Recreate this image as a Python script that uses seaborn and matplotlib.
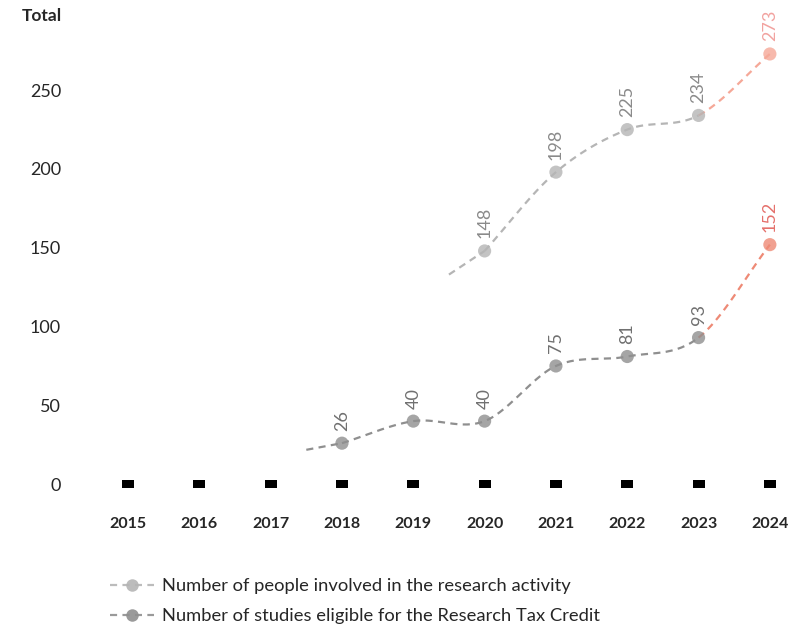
import numpy as np
import pandas as pd
import matplotlib.pyplot as plt
import seaborn as sns
from matplotlib.lines import Line2D

years = [2015, 2016, 2017, 2018, 2019, 2020, 2021, 2022, 2023, 2024]
people = [np.nan, np.nan, np.nan, np.nan, np.nan, 148, 198, 225, 234, 273]
studies = [np.nan, np.nan, np.nan, 26, 40, 40, 75, 81, 93, 152]

series_names = ["Number of people involved in the research activity",
                "Number of studies eligible for the Research Tax Credit"]
gray_cols = ["#b5b5b5", "#8f8f8f"]
hi_cols = ["#f5a898", "#ee8a76"]
label_cols = [("#8a8a8a", "#f2a3a0"), ("#707070", "#e5716c")]

sns.set_theme(style="white")
plt.rcParams["font.family"] = ["Lato", "DejaVu Sans"]


def smooth(xs, ys, n=30):
    # catmull-rom style curve through the points
    xs = np.asarray(xs, float)
    ys = np.asarray(ys, float)
    m = np.zeros_like(ys)
    m[1:-1] = (ys[2:] - ys[:-2]) / 2
    m[0] = ys[1] - ys[0]
    m[-1] = ys[-1] - ys[-2]
    cx, cy = [], []
    for i in range(len(xs) - 1):
        t = np.linspace(0, 1, n)
        h00 = 2 * t**3 - 3 * t**2 + 1
        h10 = t**3 - 2 * t**2 + t
        h01 = -2 * t**3 + 3 * t**2
        h11 = t**3 - t**2
        cx.append(xs[i] + t)
        cy.append(h00 * ys[i] + h10 * m[i] + h01 * ys[i + 1] + h11 * m[i + 1])
    return cx, cy, m


fig = plt.figure(figsize=(8.09, 6.32), dpi=100)
ax = fig.add_axes([0.0789, 0.209, 0.908, 0.748])

idx = np.arange(len(years))
dash = (0, (3.2, 2.4))

for k, vals in enumerate([people, studies]):
    v = np.array(vals, float)
    ok = ~np.isnan(v)
    xs, ys = idx[ok], v[ok]
    cx, cy, m = smooth(xs, ys)
    # leading stub
    sx = np.array([xs[0] - 0.5, xs[0]])
    sy = np.array([ys[0] - 0.5 * 0.6 * m[0], ys[0]])
    sns.lineplot(x=sx, y=sy, ax=ax, color=gray_cols[k], lw=1.6,
                 linestyle=dash, sort=False, estimator=None)
    gx = np.concatenate(cx[:-1])
    gy = np.concatenate(cy[:-1])
    sns.lineplot(x=gx, y=gy, ax=ax, color=gray_cols[k], lw=1.6,
                 linestyle=dash, sort=False, estimator=None)
    sns.lineplot(x=cx[-1], y=cy[-1], ax=ax, color=hi_cols[k], lw=1.6,
                 linestyle=dash, sort=False, estimator=None)
    cols = [gray_cols[k]] * (len(xs) - 1) + [hi_cols[k]]
    ax.scatter(xs, ys, s=90, c=cols, alpha=0.8, linewidths=0, zorder=3)
    for j, (x, y) in enumerate(zip(xs, ys)):
        lc = label_cols[k][1] if j == len(xs) - 1 else label_cols[k][0]
        ax.annotate(f"{int(y)}", (x, y), xytext=(0, 9), textcoords="offset points",
                    rotation=90, ha="center", va="bottom", fontsize=13, color=lc)

# year markers on the baseline
ax.scatter(idx, np.zeros(len(years)), marker=[(-1, -0.62), (1, -0.62), (1, 0.62), (-1, 0.62)],
           s=70, color="black", zorder=3, linewidths=0)

ax.set_xlim(-0.9, 9.4)
ax.set_ylim(-10, 290)
ax.set_xticks(idx)
ax.set_xticklabels([str(y) for y in years], fontweight="bold", fontsize=11.5)
ax.set_yticks([0, 50, 100, 150, 200, 250])
ax.tick_params(axis="x", length=0, pad=12)
ax.tick_params(axis="y", length=0, pad=2, labelsize=13)
for s in ax.spines.values():
    s.set_visible(False)

fig.text(0.077, 0.974, "Total", ha="right", va="center", fontsize=12.5, fontweight="bold")

handles = [Line2D([0], [0], color=gray_cols[k], lw=1.6, linestyle=dash, marker="o",
                  markersize=9, markeredgewidth=0, alpha=0.9) for k in range(2)]
fig.legend(handles, series_names, loc="upper left", bbox_to_anchor=(0.127, 0.097),
           frameon=False, fontsize=13.2, handlelength=2.4, handletextpad=0.45,
           labelspacing=0.78, borderaxespad=0)

fig.savefig("out.png", dpi=100)
